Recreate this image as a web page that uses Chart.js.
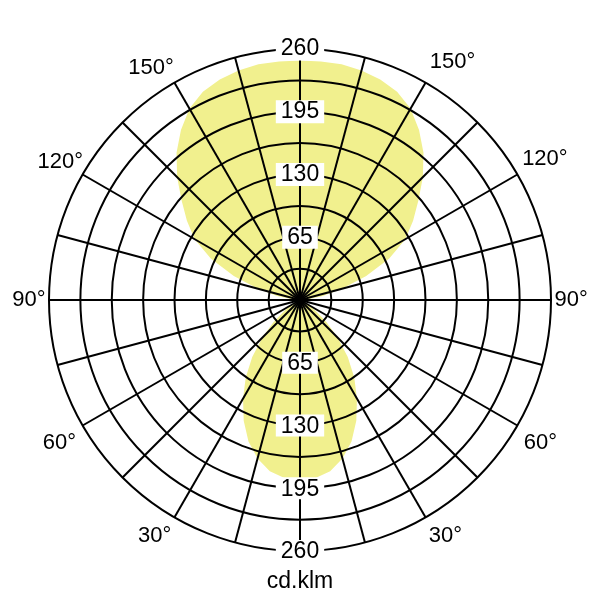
<!DOCTYPE html>
<html>
<head>
<meta charset="utf-8">
<title>cd.klm</title>
<script src="https://cdn.jsdelivr.net/npm/chart.js@4.4.0/dist/chart.umd.min.js"></script>
<style>
  html, body { margin: 0; padding: 0; background: #fff; }
  #wrap { width: 600px; height: 600px; }
</style>
</head>
<body>
<div id="wrap"><canvas id="polarChart"></canvas></div>
<script>
// gamma angle in degrees: 0 = straight down, 180 = straight up
const gammaAngles = [0, 5, 10, 15, 20, 25, 30, 35, 40, 45, 50, 55, 60, 65, 70, 75, 80, 85, 90,
  95, 100, 105, 110, 115, 120, 125, 130, 135, 140, 145, 150, 155, 160, 165, 170, 175, 180];
// intensity (cd/klm), same on both halves
const intensity = [186, 185, 180, 170, 156, 138, 118, 98, 77, 55, 36, 20, 10, 4, 1, 0, 0, 0, 2,
  8, 24, 45, 73, 102, 126, 143, 160, 180, 199, 215, 229, 238, 243, 246, 248, 248, 248];
const angleTicks = [30, 60, 90, 120, 150];   // labelled gamma angles
const radialTicks = [65, 130, 195, 260];     // labelled rings
const ringStep = 32.5;
const maxValue = 260;
const unitLabel = 'cd.klm';

const FONT = '"Liberation Sans", Arial, Helvetica, sans-serif';

// radar runs clockwise from the top: right half 180 -> 0, left half 0 -> 180
const labels = [];
const values = [];
for (let i = 0; i < 72; i++) {
  const g = Math.abs(180 - i * 5);
  labels.push(g);
  values.push(intensity[gammaAngles.indexOf(g)]);
}
const bottomIndex = labels.indexOf(0);

// how far each angle label sits off the outer ring (by spoke index)
const labelPadding = { 6: -3, 12: -6, 18: -8, 24: -4, 30: -5, 42: -5, 48: -4, 54: -8, 60: -12, 66: -10 };

// ring values repeated down the 0° spoke
const bottomTicks = {
  id: 'bottomTicks',
  afterDraw(chart) {
    const scale = chart.scales.r;
    const ctx = chart.ctx;
    ctx.save();
    ctx.font = '23px ' + FONT;
    ctx.textAlign = 'center';
    ctx.textBaseline = 'middle';
    radialTicks.forEach(v => {
      const p = scale.getPointPositionForValue(bottomIndex, v);
      const txt = String(v);
      const w = ctx.measureText(txt).width;
      ctx.fillStyle = '#fff';
      ctx.fillRect(p.x - w / 2 - 5, p.y - 11, w + 10, 22);
      ctx.fillStyle = '#000';
      ctx.fillText(txt, p.x, p.y + 1);
    });
    ctx.restore();
  }
};

new Chart(document.getElementById('polarChart'), {
  type: 'radar',
  data: {
    labels: labels,
    datasets: [{
      data: values,
      backgroundColor: '#f1f08e',
      borderWidth: 0,
      pointRadius: 0,
      fill: true
    }]
  },
  options: {
    responsive: true,
    maintainAspectRatio: false,
    animation: false,
    layout: { padding: { top: 37, left: 7, right: 7, bottom: 0 } },
    plugins: {
      legend: { display: false },
      tooltip: { enabled: false },
      title: {
        display: true,
        position: 'bottom',
        text: unitLabel,
        color: '#000',
        font: { family: FONT, size: 23, weight: 'normal' },
        padding: { top: 4, bottom: 5 }
      }
    },
    scales: {
      r: {
        min: 0,
        max: maxValue,
        startAngle: 0,
        grid: { circular: true, color: '#000', lineWidth: 2, z: 1 },
        angleLines: {
          color: '#000',
          lineWidth: ctx => (ctx.index % 3 === 0 ? 2 : 0)
        },
        ticks: {
          stepSize: ringStep,
          z: 2,
          color: '#000',
          font: { family: FONT, size: 23 },
          callback: v => (radialTicks.includes(v) ? String(v) : ''),
          showLabelBackdrop: ctx => radialTicks.includes(ctx.tick.value),
          backdropColor: '#fff',
          backdropPadding: { x: 5, y: 0 }
        },
        pointLabels: {
          color: '#000',
          font: { family: FONT, size: 22 },
          padding: ctx => (ctx.index in labelPadding ? labelPadding[ctx.index] : -3),
          callback: label => (angleTicks.includes(label) ? label + '°' : [])
        }
      }
    }
  },
  plugins: [bottomTicks]
});
</script>
</body>
</html>
